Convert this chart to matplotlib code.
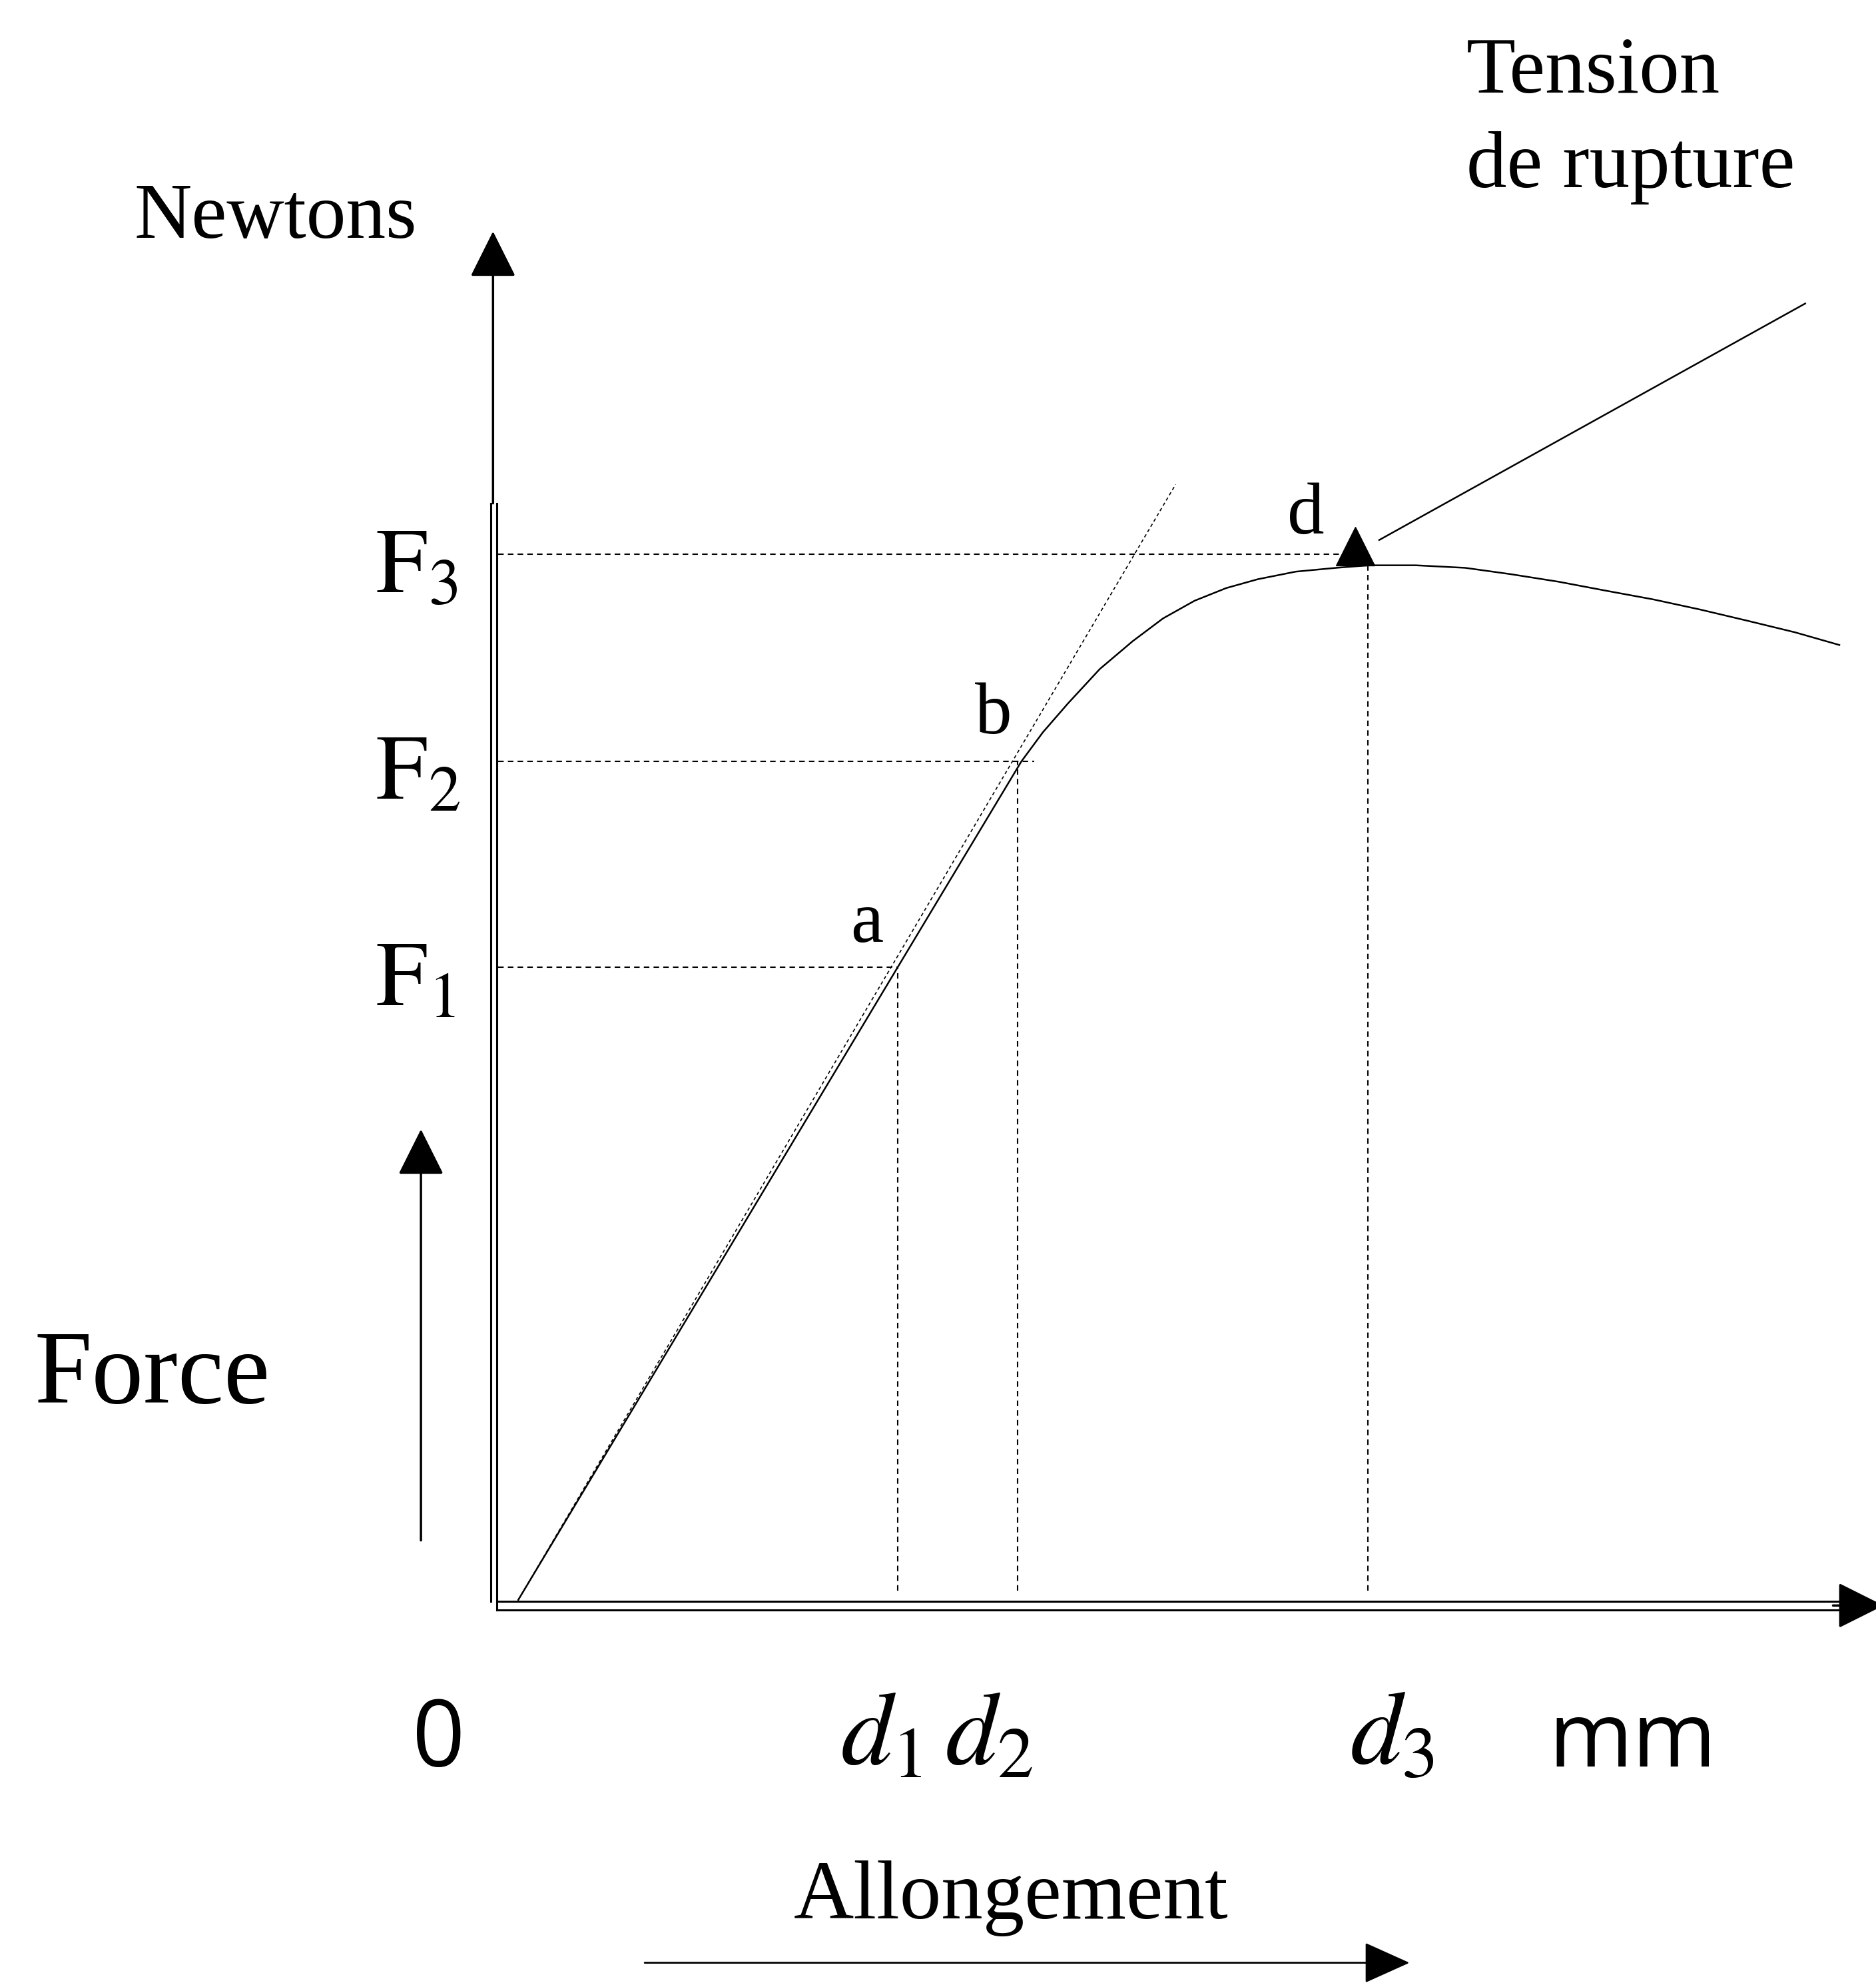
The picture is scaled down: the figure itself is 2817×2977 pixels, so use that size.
import matplotlib
matplotlib.use('Agg')
import matplotlib.pyplot as plt

plt.rcParams['mathtext.fontset'] = 'stix'

# force / elongation curve (arbitrary units)
curve_x = [0.20, 3.20, 4.18, 4.35, 4.55, 4.80, 5.06, 5.30, 5.55, 5.80, 6.05, 6.35,
           6.67, 6.93, 7.30, 7.69, 8.05, 8.43, 8.80, 9.18, 9.55, 9.93, 10.30, 10.65]
curve_y = [0.03, 5.03, 6.66, 6.89, 7.12, 7.39, 7.61, 7.79, 7.93, 8.03, 8.10, 8.16,
           8.19, 8.21, 8.21, 8.19, 8.14, 8.08, 8.01, 7.94, 7.86, 7.77, 7.68, 7.58]

# tangent of the elastic part
tangent_x = [0.20, 5.40]
tangent_y = [0.03, 8.85]

# reference levels
force_levels = [5.03, 6.66, 8.30]
force_ends = [3.20, 4.28, 6.70]
force_labels = [r'$\mathrm{F}_1$', r'$\mathrm{F}_2$', r'$\mathrm{F}_3$']
elong_levels = [3.20, 4.15, 6.92]
elong_tops = [5.03, 6.66, 8.21]

# point labels
point_names = ['a', 'b', 'd']
point_x = [2.96, 3.96, 6.43]
point_y = [5.23, 6.88, 8.46]

# rupture point and pointer
rupture_x, rupture_y = 6.82, 8.36
pointer_x = [7.01, 10.38]
pointer_y = [8.41, 10.28]

serif = 'Liberation Serif'
sans = 'Open Sans'

fig = plt.figure(figsize=(28.17, 29.77), dpi=100)
ax = fig.add_axes([0, 0, 1, 1])
ax.set_xlim(-3.90, 10.94)
ax.set_ylim(-3.00, 12.68)
ax.axis('off')

# axes drawn as double lines
ax.plot([-0.02, -0.02], [0.02, 8.70], color='black', lw=2.2)
ax.plot([0.03, 0.03], [-0.05, 8.70], color='black', lw=2.2)
ax.plot([0.03, 10.70], [0.02, 0.02], color='black', lw=2.2)
ax.plot([0.03, 10.70], [-0.05, -0.05], color='black', lw=2.2)
arrow = dict(arrowstyle='-|>,head_length=1.0,head_width=0.5', color='black',
             lw=2.5, mutation_scale=44, shrinkA=0, shrinkB=0)
ax.annotate('', xy=(0.0, 10.85), xytext=(0.0, 8.70), arrowprops=arrow)
ax.annotate('', xy=(11.00, -0.015), xytext=(10.6, -0.015), arrowprops=arrow,
            annotation_clip=False)

# curve and construction lines
ax.plot(curve_x, curve_y, color='black', lw=1.8)
ax.plot(tangent_x, tangent_y, color='black', lw=1.2, dashes=(3, 2.5))
for lvl, end in zip(force_levels, force_ends):
    ax.plot([0.04, end], [lvl, lvl], color='black', lw=1.5, dashes=(4, 3))
for lvl, top in zip(elong_levels, elong_tops):
    ax.plot([lvl, lvl], [0.10, top], color='black', lw=1.5, dashes=(4, 3))
ax.plot(pointer_x, pointer_y, color='black', lw=1.8)
ax.plot([rupture_x], [rupture_y], marker='^', ms=42, color='black')

for lbl, lvl in zip(force_labels, force_levels):
    ax.text(-0.93, lvl - 0.30, lbl, fontsize=100, ha='left', va='baseline')
for name, px, py in zip(point_names, point_x, point_y):
    ax.text(px, py, name, family=serif, fontsize=80, ha='center', va='baseline')

# axis texts
ax.text(-1.72, 10.95, 'Newtons', family=serif, fontsize=86, ha='center', va='center')
ax.text(7.70, 11.95, 'Tension', family=serif, fontsize=87, ha='left', va='baseline')
ax.text(7.70, 11.20, 'de rupture', family=serif, fontsize=87, ha='left', va='baseline')
ax.text(-3.63, 1.59, 'Force', family=serif, fontsize=112, ha='left', va='baseline')
ax.annotate('', xy=(-0.57, 3.75), xytext=(-0.57, 0.50), arrowprops=arrow)

ax.text(-0.43, -1.29, '0', family=sans, fontsize=100, ha='center', va='baseline')
ax.text(2.75, -1.27, r'$d_1\,d_2$', fontsize=112, ha='left', va='baseline')
ax.text(6.78, -1.27, r'$d_3$', fontsize=112, ha='left', va='baseline')
ax.text(8.35, -1.29, 'mm', family=sans, fontsize=98, ha='left', va='baseline')

ax.text(4.10, -2.49, 'Allongement', family=serif, fontsize=90, ha='center', va='baseline')
ax.annotate('', xy=(7.25, -2.84), xytext=(1.20, -2.84),
            arrowprops=dict(arrowstyle='-|>,head_length=1.0,head_width=0.45', color='black',
                            lw=2.0, mutation_scale=44, shrinkA=0, shrinkB=0))

fig.savefig('out.png', dpi=100, facecolor='white')
